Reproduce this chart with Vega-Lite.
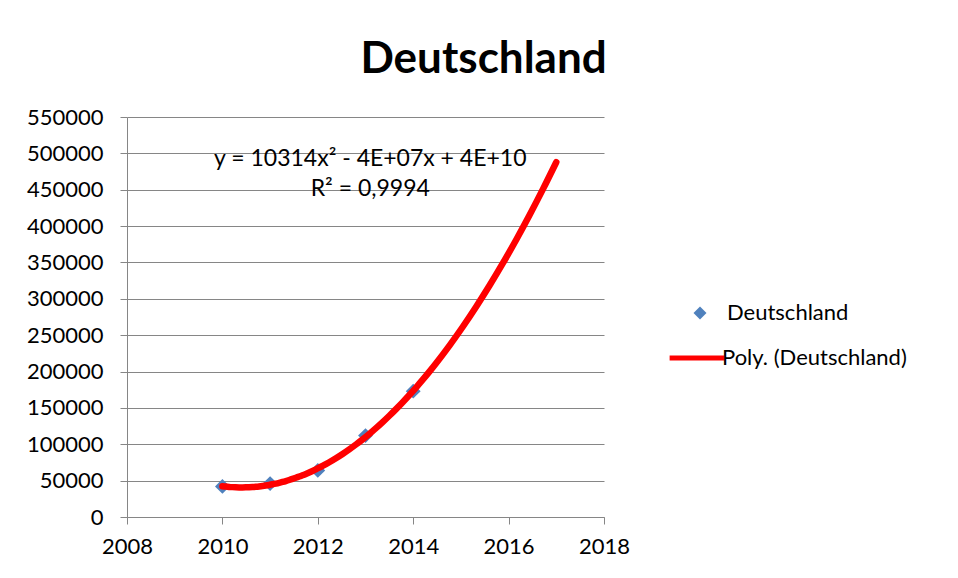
{
  "$schema": "https://vega.github.io/schema/vega-lite/v6.json",
  "width": 477,
  "height": 400,
  "autosize": {"type": "none"},
  "padding": {"left": 127, "top": 117, "right": 354, "bottom": 61},
  "background": "white",
  "config": {"view": {"stroke": null}, "font": "Lato"},
  "title": {"text": "Deutschland", "font": "Lato", "fontSize": 44, "fontWeight": "bold", "color": "#000000", "anchor": "start", "dx": 334, "offset": 24},
  "datasets": {
    "points": [
      {"year": 2010, "value": 42000, "series": "Deutschland", "trend": "Poly. (Deutschland)"},
      {"year": 2011, "value": 46000, "series": "Deutschland", "trend": "Poly. (Deutschland)"},
      {"year": 2012, "value": 64000, "series": "Deutschland", "trend": "Poly. (Deutschland)"},
      {"year": 2013, "value": 112000, "series": "Deutschland", "trend": "Poly. (Deutschland)"},
      {"year": 2014, "value": 173000, "series": "Deutschland", "trend": "Poly. (Deutschland)"}
    ],
    "equation": [
      {"year": 2013.1, "value": 492000, "label": "y = 10314x² - 4E+07x + 4E+10"},
      {"year": 2013.1, "value": 451000, "label": "R² = 0,9994"}
    ]
  },
  "encoding": {
    "x": {"field": "year", "type": "quantitative",
      "scale": {"domain": [2008, 2018], "nice": false, "zero": false},
      "axis": {"title": null, "values": [2008, 2010, 2012, 2014, 2016, 2018], "format": "d", "grid": false, "labelOverlap": false,
        "domainColor": "#868686", "tickColor": "#868686", "tickSize": 7, "labelFontSize": 22, "labelColor": "#000000", "labelFont": "Lato", "labelPadding": 12, "labelFlush": false}},
    "y": {"field": "value", "type": "quantitative",
      "scale": {"domain": [0, 550000], "nice": false},
      "axis": {"title": null, "values": [0, 50000, 100000, 150000, 200000, 250000, 300000, 350000, 400000, 450000, 500000, 550000], "format": "d", "labelOverlap": false,
        "gridColor": "#868686", "gridWidth": 1, "domainColor": "#868686", "tickColor": "#868686", "tickSize": 7, "labelFontSize": 22, "labelColor": "#000000", "labelFont": "Lato", "labelPadding": 17}}
  },
  "layer": [
    {
      "data": {"name": "points"},
      "mark": {"type": "point", "filled": true, "opacity": 1, "size": 220, "shape": "diamond"},
      "encoding": {
        "color": {"field": "series", "type": "nominal",
          "scale": {"domain": ["Deutschland"], "range": ["#4F81BD"]},
          "legend": {"title": null, "orient": "none", "legendX": 562, "legendY": 185, "labelFontSize": 22, "labelFont": "Lato", "labelColor": "#000000", "labelLimit": 400, "symbolType": "diamond", "symbolSize": 170, "symbolOpacity": 1, "labelOffset": 16}}
      }
    },
    {
      "data": {"name": "points"},
      "transform": [{"regression": "value", "on": "year", "method": "poly", "order": 2, "extent": [2010, 2017], "groupby": ["trend"]}],
      "mark": {"type": "line", "strokeWidth": 6.5, "strokeCap": "round", "interpolate": "monotone"},
      "encoding": {
        "stroke": {"field": "trend", "type": "nominal",
          "scale": {"domain": ["Poly. (Deutschland)"], "range": ["#FF0000"]},
          "legend": {"title": null, "orient": "none", "legendX": 540, "legendY": 211, "labelFontSize": 22, "labelFont": "Lato", "labelColor": "#000000", "labelLimit": 400, "symbolType": "stroke", "symbolSize": 3000, "symbolStrokeWidth": 5, "symbolStrokeColor": "#FF0000", "labelOffset": -5}}
      }
    },
    {
      "data": {"name": "equation"},
      "mark": {"type": "text", "font": "Lato", "fontSize": 23, "color": "#000000", "align": "center", "baseline": "middle"},
      "encoding": {
        "text": {"field": "label"}
      }
    }
  ]
}
